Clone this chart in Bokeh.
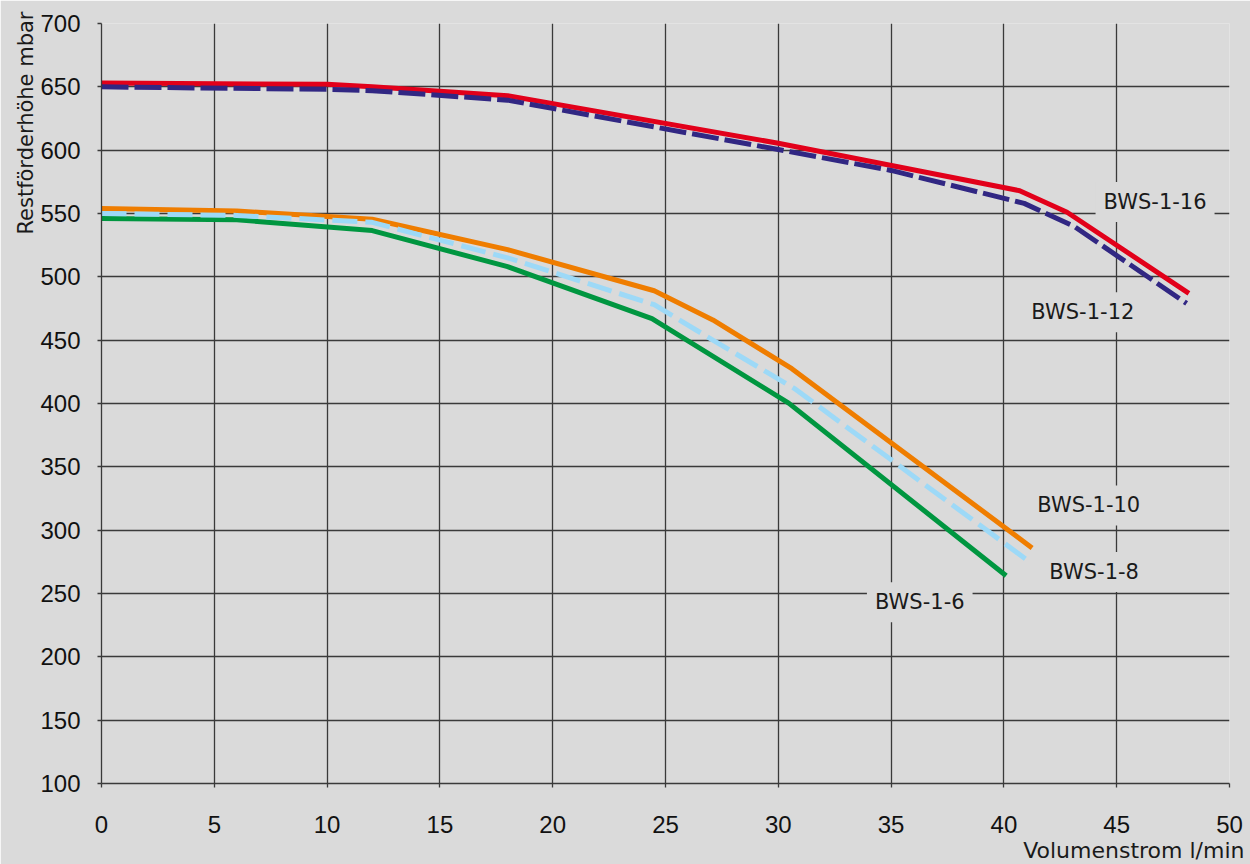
import math
from bokeh.plotting import figure
from bokeh.models import Range1d, FixedTicker, Label, Title
from bokeh.embed import file_html
from bokeh.resources import INLINE

# ---- data ----
x_ticks = [0, 5, 10, 15, 20, 25, 30, 35, 40, 45, 50]
y_ticks = [100, 150, 200, 250, 300, 350, 400, 450, 500, 550, 600, 650, 700]

bws16_x = [0, 10, 12, 18, 30, 40.7, 42.8, 48.2]
bws16_y = [653, 652, 650, 643, 605.5, 568, 551, 487]

bws12_x = [0, 10, 12, 18, 30, 35, 40.9, 43.1, 48.1]
bws12_y = [650, 648, 647, 639.5, 600.5, 584, 558, 540, 479]

bws10_x = [0, 6, 12, 18, 24.5, 27.1, 30.6, 41.25]
bws10_y = [554, 552, 545.5, 521.5, 489, 466, 427.5, 286]

bws8_x = [0, 6, 12, 18, 24.5, 27.1, 30.7, 41.1]
bws8_y = [550, 548.5, 543, 515, 478, 450, 412, 275.5]

bws6_x = [0, 6, 12, 18, 24.4, 30.46, 40.1]
bws6_y = [546, 545, 536.5, 508, 467, 400.3, 264]

series_names = ["BWS-1-16", "BWS-1-12", "BWS-1-10", "BWS-1-8", "BWS-1-6"]
x_title = "Volumenstrom l/min"
y_title = "Restförderhöhe mbar"

# ---- styling ----
BG = "#dadada"
GRID = "#3a3a3a"
TXT = "#1a1a1a"
LABEL_FONT = "DejaVu Sans"
TICK_FONT = "Liberation Sans"

p = figure(width=1250, height=864,
           x_range=Range1d(0, 50), y_range=Range1d(100, 700),
           output_backend="svg", toolbar_location=None,
           min_border_left=101, min_border_right=21,
           min_border_top=23, min_border_bottom=81)

p.background_fill_color = BG
p.border_fill_color = BG
p.outline_line_color = None

p.xaxis.ticker = FixedTicker(ticks=x_ticks)
p.yaxis.ticker = FixedTicker(ticks=y_ticks)
for ax in (p.xaxis, p.yaxis):
    ax.minor_tick_line_color = None
    ax.major_tick_in = 0
    ax.major_tick_out = 4
    ax.major_tick_line_color = GRID
    ax.major_tick_line_width = 1.3
    ax.axis_line_color = GRID
    ax.axis_line_width = 1.3
    ax.major_label_text_font = TICK_FONT
    ax.major_label_text_font_size = "24px"
    ax.major_label_text_color = "#111111"
p.yaxis.major_label_standoff = 17
p.xaxis.major_label_standoff = 28

p.xgrid.ticker = FixedTicker(ticks=x_ticks)
p.ygrid.ticker = FixedTicker(ticks=y_ticks)
for g in (p.xgrid, p.ygrid):
    g.grid_line_color = GRID
    g.grid_line_width = 1.3

# ---- curves ----
LW = 5
p.line(bws16_x, bws16_y, line_color="#e2001a", line_width=LW, line_join="round")
p.line(bws12_x, bws12_y, line_color="#312783", line_width=LW, line_dash="27 6")
p.line(bws6_x, bws6_y, line_color="#009640", line_width=LW, line_join="round")
p.line(bws10_x, bws10_y, line_color="#ef7d00", line_width=LW, line_join="round")
p.line(bws8_x, bws8_y, line_color="#9dd9f7", line_width=LW, line_dash="25 8")

# ---- series labels ----
label_pos = [(46.7, 559), (43.5, 472), (43.76, 319.5), (44.0, 267), (36.27, 243)]
for name, (lx, ly) in zip(series_names, label_pos):
    p.add_layout(Label(x=lx, y=ly, text=name, text_font=LABEL_FONT,
                       text_font_size="21px", text_color=TXT,
                       text_align="center", text_baseline="middle",
                       background_fill_color=BG, padding=8))

# ---- axis titles ----
p.add_layout(Title(text=x_title, align="right", offset=-15, standoff=0,
                   text_font=LABEL_FONT, text_font_size="22px",
                   text_font_style="normal", text_color=TXT), "below")
p.add_layout(Title(text=y_title, align="right", offset=-12, standoff=0,
                   text_font=LABEL_FONT, text_font_size="21px",
                   text_font_style="normal", text_color=TXT), "left")

open("out.html", "w").write(file_html(p, INLINE))
